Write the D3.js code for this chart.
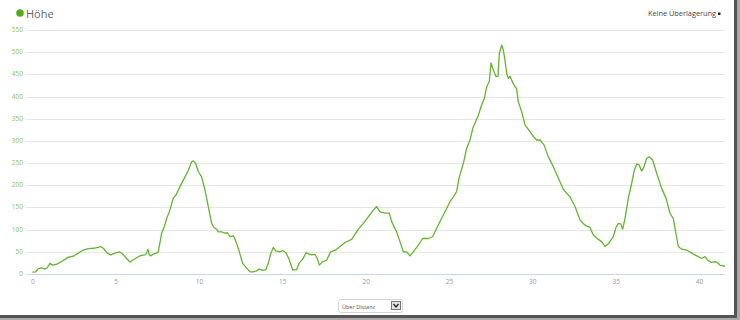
<!DOCTYPE html>
<html lang="de">
<head>
<meta charset="UTF-8">
<script src="https://d3js.org/d3.v7.min.js"></script>
<style>
  body { margin: 0; background: #fff; }
  svg { display: block; font-family: "Open Sans", sans-serif; }
</style>
</head>
<body>
<script>
// distance in km, elevation in m
const distances = [0, 0.2, 0.36, 0.56, 0.76, 0.9, 1.06, 1.2, 1.46, 1.76, 2.16, 2.46, 2.76, 3.06, 3.36, 3.66, 3.96, 4.1, 4.26, 4.5,
  4.7, 4.96, 5.22, 5.42, 5.66, 5.86, 6.06, 6.36, 6.56, 6.76, 6.86, 6.94, 7.02, 7.12, 7.26, 7.46, 7.56, 7.76, 7.92, 8.06,
  8.22, 8.46, 8.62, 8.86, 9.16, 9.36, 9.56, 9.66, 9.8, 9.96, 10.16, 10.36, 10.56, 10.76, 10.9, 11.06, 11.16, 11.36, 11.56, 11.7,
  11.86, 12.06, 12.22, 12.42, 12.62, 12.82, 13.06, 13.26, 13.46, 13.62, 13.82, 14.02, 14.16, 14.3, 14.46, 14.6, 14.86, 15.02, 15.22, 15.42,
  15.62, 15.86, 16.02, 16.22, 16.42, 16.62, 16.76, 16.96, 17.1, 17.22, 17.42, 17.66, 17.9, 18.16, 18.46, 18.76, 19.16, 19.56, 19.86, 20.16,
  20.46, 20.66, 20.86, 21.16, 21.42, 21.56, 21.86, 22.06, 22.26, 22.46, 22.66, 22.86, 23.16, 23.42, 23.76, 24.02, 24.26, 24.66, 25.06, 25.26,
  25.46, 25.62, 25.86, 26.06, 26.26, 26.46, 26.56, 26.76, 26.96, 27.12, 27.26, 27.42, 27.52, 27.66, 27.82, 27.94, 28.02, 28.16, 28.26, 28.36,
  28.46, 28.56, 28.66, 28.76, 28.9, 29.06, 29.16, 29.36, 29.56, 29.76, 30.06, 30.26, 30.46, 30.7, 30.96, 31.26, 31.66, 31.86, 32.26, 32.56,
  32.86, 33.16, 33.46, 33.66, 33.96, 34.16, 34.36, 34.56, 34.86, 35.02, 35.16, 35.3, 35.42, 35.56, 35.76, 35.96, 36.1, 36.26, 36.4, 36.56,
  36.7, 36.86, 37.02, 37.22, 37.46, 37.76, 38.02, 38.26, 38.46, 38.56, 38.76, 38.96, 39.26, 39.56, 39.86, 40.16, 40.36, 40.56, 40.76, 40.96,
  41.1, 41.26, 41.46, 41.56];
const elevations = [4, 5, 12, 14, 11, 14, 24, 20, 22, 28, 38, 40, 47, 54, 57, 58, 60, 62, 58, 47,
  43, 47, 50, 45, 35, 27, 32, 39, 42, 43, 47, 56, 43, 41, 45, 47, 50, 92, 107, 125,
  140, 171, 178, 197, 219, 234, 253, 255, 249, 231, 219, 189, 152, 114, 105, 101, 95, 95, 92, 93,
  84, 86, 73, 50, 24, 15, 5, 5, 7, 11, 8, 10, 24, 45, 60, 52, 50, 53, 48, 32,
  9, 10, 25, 33, 48, 45, 43, 44, 35, 20, 28, 31, 50, 53, 62, 71, 78, 101, 114, 129,
  144, 152, 140, 137, 137, 118, 95, 73, 50, 50, 41, 50, 65, 80, 80, 84, 103, 133, 163, 174,
  186, 219, 249, 283, 302, 332, 340, 358, 381, 396, 422, 434, 476, 460, 445, 446, 497, 516, 505, 482,
  452, 441, 446, 437, 426, 418, 388, 366, 336, 326, 310, 302, 302, 291, 264, 242, 208, 191, 174, 152,
  122, 110, 105, 88, 78, 73, 62, 68, 84, 105, 114, 113, 101, 125, 171, 204, 231, 248, 246, 232,
  242, 261, 264, 257, 227, 193, 171, 137, 125, 103, 62, 56, 54, 47, 41, 35, 39, 30, 26, 28,
  26, 20, 18, 18];

const yTicks = [0, 50, 100, 150, 200, 250, 300, 350, 400, 450, 500, 550];
const xTicks = [0, 5, 10, 15, 20, 25, 30, 35, 40];

const W = 740, H = 320;
const plotLeft = 26, plotRight = 725;

const svg = d3.select("body").append("svg")
  .attr("width", W)
  .attr("height", H);

const x = d3.scaleLinear().domain([0, 41.56]).range([32.3, 725]);
const y = d3.scaleLinear().domain([0, 550]).range([274, 30]);

// gridlines
svg.append("g")
  .selectAll("line")
  .data(yTicks.filter(d => d > 0))
  .join("line")
  .attr("x1", plotLeft)
  .attr("x2", plotRight)
  .attr("y1", d => Math.round(y(d)) + 0.5)
  .attr("y2", d => Math.round(y(d)) + 0.5)
  .attr("stroke", "#e6e6e6");

// y labels
svg.append("g")
  .selectAll("text")
  .data(yTicks)
  .join("text")
  .attr("x", 23)
  .attr("y", d => y(d) + 2)
  .attr("text-anchor", "end")
  .attr("font-size", 6.5)
  .attr("fill", "#86c454")
  .text(d => d);

// x axis
const xAxis = svg.append("g")
  .attr("transform", "translate(0,274.5)")
  .call(d3.axisBottom(x).tickValues(xTicks).tickSize(0).tickPadding(5));
xAxis.select(".domain").remove();
xAxis.selectAll("text").attr("font-size", 6.5).attr("fill", "#999").attr("font-family", "Open Sans, sans-serif");
svg.append("line")
  .attr("x1", plotLeft).attr("x2", plotRight)
  .attr("y1", 274.5).attr("y2", 274.5)
  .attr("stroke", "#c8d8e8");

// elevation line
const pts = distances.map((d, i) => [d, elevations[i]]);
svg.append("path")
  .datum(pts)
  .attr("fill", "none")
  .attr("stroke", "#62b52d")
  .attr("stroke-width", 1.3)
  .attr("stroke-linejoin", "round")
  .attr("d", d3.line().x(d => x(d[0])).y(d => y(d[1])));

// title
svg.append("circle").attr("cx", 20).attr("cy", 13).attr("r", 3.8).attr("fill", "#4caf1a");
svg.append("text").attr("x", 26).attr("y", 17.5)
  .attr("font-size", 11).attr("fill", "#666").text("Höhe");

// overlay menu
svg.append("text").attr("x", 648).attr("y", 16)
  .attr("font-size", 8).attr("fill", "#444")
  .attr("textLength", 68).attr("lengthAdjust", "spacingAndGlyphs")
  .text("Keine Überlagerung");
svg.append("rect").attr("x", 718).attr("y", 12.5).attr("width", 2.5).attr("height", 2.5).attr("fill", "#222");

// distance select
const sel = svg.append("g");
sel.append("rect").attr("x", 338.5).attr("y", 299.5).attr("width", 64).attr("height", 13).attr("rx", 2)
  .attr("fill", "#fff").attr("stroke", "#d4d4d4");
sel.append("text").attr("x", 342).attr("y", 308.5).attr("font-size", 5.5).attr("fill", "#555").text("Über Distanz");
sel.append("rect").attr("x", 391.5).attr("y", 301.5).attr("width", 9).attr("height", 8)
  .attr("fill", "#e4e4e4").attr("stroke", "#777");
sel.append("path").attr("d", "M393.5,304 L396,307 L398.5,304")
  .attr("fill", "none").attr("stroke", "#222").attr("stroke-width", 1.3);

// screenshot shadow
svg.append("rect").attr("x", 734).attr("y", 0).attr("width", 3).attr("height", 318).attr("fill", "#555");
svg.append("rect").attr("x", 737).attr("y", 0).attr("width", 3).attr("height", 320).attr("fill", "#aaa");
svg.append("rect").attr("x", 0).attr("y", 315).attr("width", 737).attr("height", 3).attr("fill", "#555");
svg.append("rect").attr("x", 0).attr("y", 318).attr("width", 740).attr("height", 2).attr("fill", "#aaa");
</script>
</body>
</html>
